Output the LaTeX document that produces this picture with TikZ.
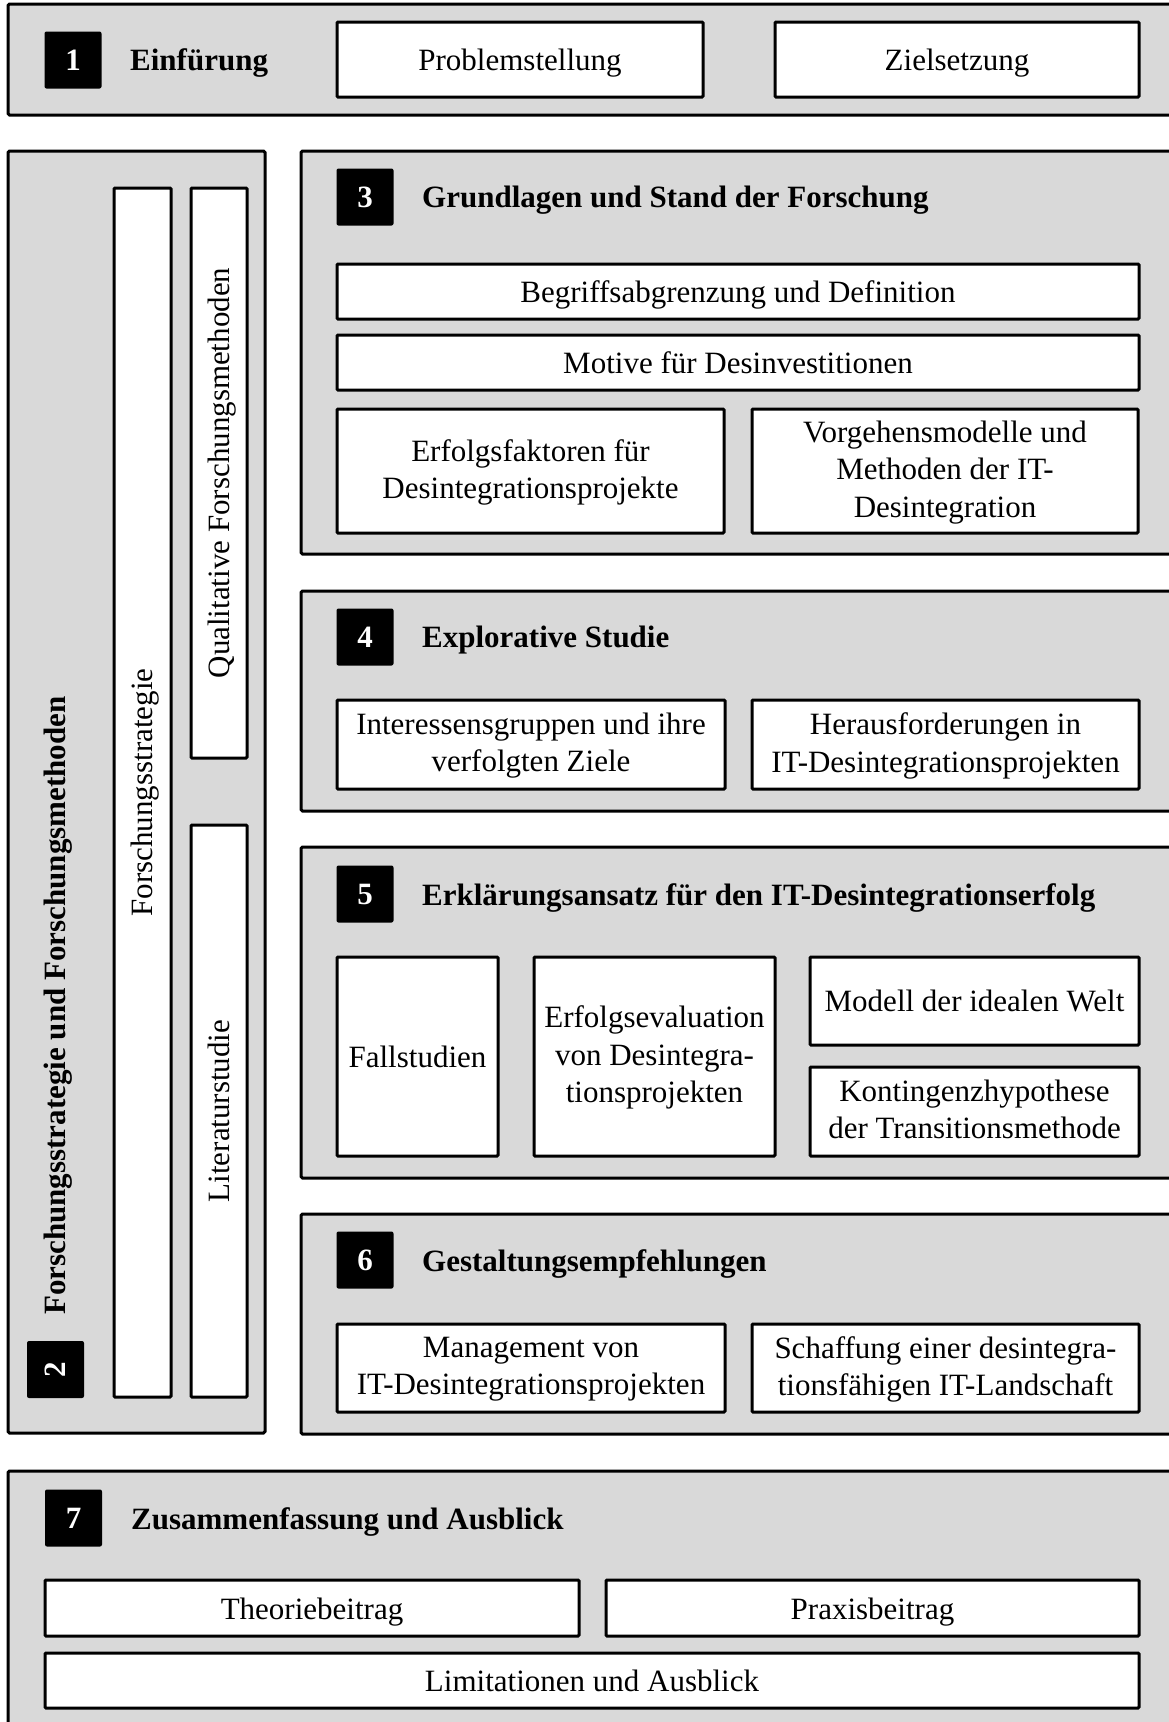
\documentclass[tikz,border=0pt]{standalone}
\usepackage{fontspec}
\setmainfont{Liberation Serif}
\newcommand{\dgfont}{\fontsize{31}{37.4}\selectfont}
\definecolor{framegray}{RGB}{217,217,217}
\tikzset{
  frame/.style={draw=black, fill=framegray, line width=3pt, rounded corners=1.5pt},
  iboxshape/.style={draw=black, fill=white, line width=3pt, rounded corners=1pt, inner sep=0pt},
  iboxtext/.style={align=center, inner sep=0pt, font=\dgfont,
    execute at begin node=\strut, execute at end node=\strut},
  numbox/.style={fill=black, text=white, font=\dgfont\bfseries,
    rounded corners=2pt, minimum size=57pt, inner sep=0pt},
  headtext/.style={anchor=west, inner sep=0pt, font=\dgfont\bfseries},
}
% white box: name, centre x, centre y, width, height, text
\newcommand{\whitebox}[6]{%
  \node[iboxshape, minimum width=#4pt, minimum height=#5pt] (#1) at (#2,#3) {};
  \node[iboxtext] (#1-t) at ([yshift=-3.5pt]#1.center) {#6};
}
% upright vertical bar with rotated label
\newcommand{\vbar}[6]{%
  \node[iboxshape, minimum width=#4pt, minimum height=#5pt] (#1) at (#2,#3) {};
  \node[iboxtext, rotate=90] (#1-t) at ([xshift=3pt]#1.center) {#6};
}
\begin{document}
\begin{tikzpicture}[x=1pt, y=-1pt]
\useasboundingbox (0,0) rectangle (1169,1722);
\clip (0,0) rectangle (1169,1722);

% Chapter 1
\draw[frame] (8,4) rectangle (1190,115);
\node[numbox] (n1) at (73,60) {1};
\node[headtext] (h1) at (130,63.5) {Einfürung};
\whitebox{problem}{520}{59.5}{366}{75}{Problemstellung}
\whitebox{ziel}{957}{59.5}{364}{75}{Zielsetzung}

% Chapter 2 (vertical column)
\draw[frame] (8,151) rectangle (265,1433);
\vbar{strat}{142.5}{792.5}{57}{1209}{Forschungsstrategie}
\vbar{quali}{219}{473}{56}{570}{Qualitative Forschungsmethoden}
\vbar{lit}{219}{1111}{56}{572}{Literaturstudie}
\node[numbox, rotate=90] (n2) at (55.5,1369.5) {2};
\node[headtext, rotate=90] (h2) at (58,1315) {Forschungsstrategie und Forschungsmethoden};

% Chapter 3
\draw[frame] (301,151) rectangle (1190,554);
\node[numbox] (n3) at (365,197) {3};
\node[headtext] (h3) at (422,200.5) {Grundlagen und Stand der Forschung};
\whitebox{begriff}{738}{291.5}{802}{55}{Begriffsabgrenzung und Definition}
\whitebox{motive}{738}{362.5}{802}{55}{Motive für Desinvestitionen}
\whitebox{erfolgsf}{530.5}{471}{387}{124}{Erfolgsfaktoren für\\Desintegrationsprojekte}
\whitebox{vorgehen}{945}{471}{386}{124}{Vorgehensmodelle und\\Methoden der IT-\\Desintegration}

% Chapter 4
\draw[frame] (301,591) rectangle (1190,811);
\node[numbox] (n4) at (365,637) {4};
\node[headtext] (h4) at (422,640.5) {Explorative Studie};
\whitebox{interessen}{531}{744.5}{388}{89}{Interessensgruppen und ihre\\verfolgten Ziele}
\whitebox{herausf}{945.5}{744.5}{387}{89}{Herausforderungen in\\IT-Desintegrationsprojekten}

% Chapter 5
\draw[frame] (301,847) rectangle (1190,1178);
\node[numbox] (n5) at (365,894) {5};
\node[headtext] (h5) at (422,897.5) {Erklärungsansatz für den IT-Desintegrationserfolg};
\whitebox{fall}{417.5}{1056.5}{161}{199}{Fallstudien}
\whitebox{eval}{654.5}{1056.5}{241}{199}{Erfolgsevaluation\\von Desintegra-\\tionsprojekten}
\whitebox{modell}{974.5}{1001}{329}{88}{Modell der idealen Welt}
\whitebox{konting}{974.5}{1111.5}{329}{89}{Kontingenzhypothese\\der Transitionsmethode}

% Chapter 6
\draw[frame] (301,1214) rectangle (1190,1434);
\node[numbox] (n6) at (365,1260) {6};
\node[headtext] (h6) at (422,1263.5) {Gestaltungsempfehlungen};
\whitebox{mgmt}{531}{1368}{388}{88}{Management von\\IT-Desintegrationsprojekten}
\whitebox{schaff}{945.5}{1368}{387}{88}{Schaffung einer desintegra-\\tionsfähigen IT-Landschaft}

% Chapter 7
\draw[frame] (8,1471) rectangle (1190,1740);
\node[numbox] (n7) at (73.5,1518) {7};
\node[headtext] (h7) at (131,1521.5) {Zusammenfassung und Ausblick};
\whitebox{theorie}{312}{1608}{534}{56}{Theoriebeitrag}
\whitebox{praxis}{872.5}{1608}{533}{56}{Praxisbeitrag}
\whitebox{limit}{592}{1680.5}{1094}{55}{Limitationen und Ausblick}
\end{tikzpicture}
\end{document}
